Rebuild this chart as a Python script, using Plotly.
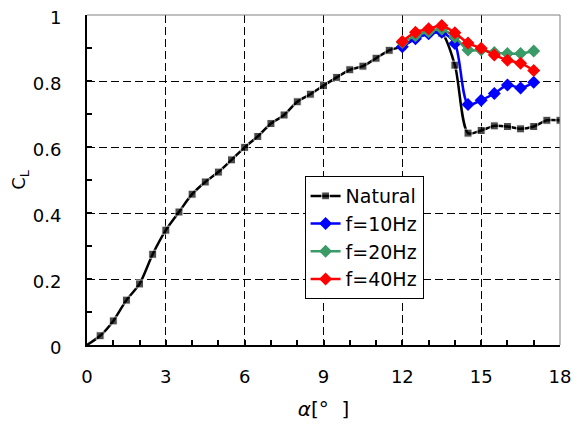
import plotly.graph_objects as go

alpha_nat = [0, 0.5, 1, 1.5, 2, 2.5, 3, 3.5, 4, 4.5, 5, 5.5, 6, 6.5, 7, 7.5, 8, 8.5, 9,
             9.5, 10, 10.5, 11, 11.5, 12, 12.5, 13, 13.5, 14, 14.5, 15, 15.5, 16, 16.5,
             17, 17.5, 18]
cl_nat = [0.0, 0.028, 0.073, 0.136, 0.185, 0.275, 0.348, 0.403, 0.457, 0.494, 0.524,
          0.561, 0.599, 0.632, 0.671, 0.697, 0.737, 0.760, 0.786, 0.811, 0.834, 0.845,
          0.869, 0.893, 0.905, 0.930, 0.945, 0.945, 0.848, 0.642, 0.650, 0.664, 0.662,
          0.655, 0.662, 0.681, 0.681]

alpha_f = [12, 12.5, 13, 13.5, 14, 14.5, 15, 15.5, 16, 16.5, 17]
cl_10 = [0.904, 0.928, 0.943, 0.948, 0.914, 0.729, 0.742, 0.762, 0.788, 0.779, 0.796]
cl_20 = [0.917, 0.937, 0.949, 0.957, 0.933, 0.894, 0.894, 0.886, 0.883, 0.883, 0.891]
cl_40 = [0.920, 0.948, 0.958, 0.968, 0.946, 0.915, 0.899, 0.879, 0.863, 0.854, 0.832]

x_ticks = [0, 3, 6, 9, 12, 15, 18]
y_ticks = [0, 0.2, 0.4, 0.6, 0.8, 1.0]
y_ticklabels = ["0", "0.2", "0.4", "0.6", "0.8", "1"]

FONT = "DejaVu Sans, Liberation Sans, sans-serif"

fig = go.Figure()
fig.add_trace(go.Scatter(
    x=alpha_nat, y=cl_nat, name="Natural", mode="lines+markers",
    line=dict(color="black", width=2.5, shape="spline", smoothing=0.8),
    marker=dict(symbol="square", size=[0] + [8] * (len(alpha_nat) - 1), color="black"),
))
fig.add_trace(go.Scatter(
    x=alpha_f, y=cl_10, name="f=10Hz", mode="lines+markers",
    line=dict(color="#0000FF", width=2.5, shape="spline", smoothing=0.8),
    marker=dict(symbol="diamond", size=10, color="#0000FF"),
))
fig.add_trace(go.Scatter(
    x=alpha_f, y=cl_20, name="f=20Hz", mode="lines+markers",
    line=dict(color="#3A9A68", width=2.5, shape="spline", smoothing=0.8),
    marker=dict(symbol="diamond", size=10, color="#3A9A68"),
))
fig.add_trace(go.Scatter(
    x=alpha_f, y=cl_40, name="f=40Hz", mode="lines+markers",
    line=dict(color="#FF0000", width=2.5, shape="spline", smoothing=0.8),
    marker=dict(symbol="diamond", size=10, color="#FF0000"),
))

fig.update_layout(
    width=580, height=424,
    margin=dict(l=79, r=28, t=7, b=87),
    paper_bgcolor="white", plot_bgcolor="white",
    font=dict(family=FONT, size=18, color="black"),
    showlegend=True,
    legend=dict(
        x=0.46, y=0.512, xanchor="left", yanchor="top",
        bgcolor="white", bordercolor="black", borderwidth=1,
        font=dict(family=FONT, size=19, color="black"),
        tracegroupgap=0, itemwidth=30,
    ),
    xaxis=dict(
        range=[0, 18], tickvals=x_ticks, ticktext=[str(v) for v in x_ticks],
        automargin=False, ticklabeloverflow="allow",
        showgrid=True, gridcolor="black", gridwidth=1, griddash="8px,4px",
        zeroline=False, showline=True, linecolor="black", linewidth=2,
        ticks="inside", ticklen=5, tickwidth=1.5, tickcolor="black",
        minor=dict(dtick=1, ticks="inside", ticklen=5, tickwidth=1.5, tickcolor="black", showgrid=False),
        ticklabelstandoff=14,
        tickfont=dict(size=18),
        title=dict(text="<i>α</i>[°\u00a0\u00a0]", font=dict(size=20), standoff=16),
    ),
    yaxis=dict(
        range=[0, 1], tickvals=y_ticks, ticktext=y_ticklabels,
        automargin=False, ticklabeloverflow="allow",
        showgrid=True, gridcolor="black", gridwidth=1, griddash="8px,4px",
        zeroline=False, showline=True, linecolor="black", linewidth=2,
        ticks="inside", ticklen=5, tickwidth=1.5, tickcolor="black",
        minor=dict(dtick=0.1, ticks="inside", ticklen=5, tickwidth=1.5, tickcolor="black", showgrid=False),
        ticklabelstandoff=20, ticklabelshift=3,
        tickfont=dict(size=18),
        title=dict(text="C<sub>L</sub>", font=dict(size=18), standoff=10),
    ),
    shapes=[
        dict(type="line", xref="paper", yref="paper", x0=0, x1=1, y0=1, y1=1,
             line=dict(color="#808080", width=1)),
        dict(type="line", xref="paper", yref="paper", x0=1, x1=1, y0=0, y1=1,
             line=dict(color="#808080", width=1)),
    ],
)

fig.write_html("out.html")
